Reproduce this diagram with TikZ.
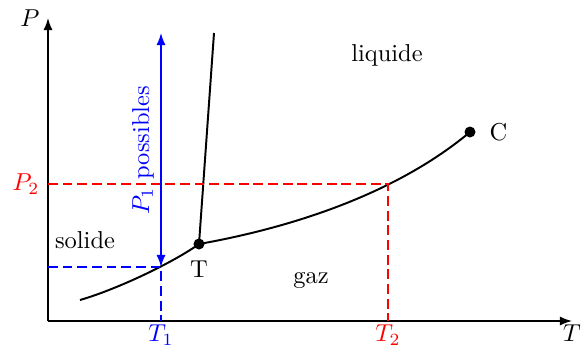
\documentclass[tikz,border=0pt]{standalone}
\usepackage{amsmath}
\usepackage{xcolor}
\usetikzlibrary{arrows.meta,positioning,calc}

\begin{document}
\begin{tikzpicture}[
  x=0.01437cm, y=0.01437cm,
  axis/.style={semithick, -{Latex[length=5pt]}},
  curve/.style={thick},
  reddash/.style={draw=red, semithick, dash pattern=on 4pt off 2pt},
  bluedash/.style={draw=blue, semithick, dash pattern=on 4pt off 2pt},
  rangearrow/.style={draw=blue, fill=blue, semithick, {Latex[length=5pt]}-{Latex[length=5pt]}},
  dot/.style={circle, fill, inner sep=0pt, minimum size=4.5pt},
  ticklab/.style={below, inner sep=1.5pt}
]
\useasboundingbox (0,0) rectangle (582,349);

% axes
\coordinate (O) at (48,28);
\coordinate (Ptip) at (48,331);
\coordinate (Ttip) at (572,28);
\draw[axis] (O) -- (Ptip);
\draw[axis] (O) -- (Ttip);
\node[left] (Plab) at (Ptip) {$P$};
\node[ticklab] (Tlab) at (Ttip) {$T$};

% special points
\coordinate (A) at (161,82);
\coordinate (B) at (388,165);
\node[dot] (triple) at (199,105) {};
\node[dot] (crit) at (470,217) {};
\node[below=1pt of triple] (triplelab) {T};
\node[right=2pt of crit] (critlab) {C};

% coexistence curves
\draw[curve] (80,49) .. controls (118,60) and (174,87) .. (triple.center);
\coordinate (fusend) at (214,316);
\draw[curve] (triple.center) -- (fusend);
\draw[curve] (triple.center) .. controls (278,119) and (390,150) .. (crit.center);

% dashed guides
\coordinate (P2axis) at (48,165);
\coordinate (T2axis) at (388,28);
\coordinate (P1axis) at (48,82);
\coordinate (T1axis) at (161,28);
\draw[reddash] (P2axis) -- (B) -- (T2axis);
\draw[bluedash] (P1axis) -- (A) -- (T1axis);
\node[left, red] (P2lab) at (P2axis) {$P_2$};
\node[ticklab, red] (T2lab) at (T2axis) {$T_2$};
\node[ticklab, blue] (T1lab) at (T1axis) {$T_1$};

% range of P1
\coordinate (Atop) at (161,316);
\draw[rangearrow] (Atop) -- (A);
\node[blue, rotate=90] (possib) at (143,199) {$P_1$ possibles};

% phases
\node (solide) at (85,109) {solide};
\node (liquide) at (387,294) {liquide};
\node (gaz) at (311,69) {gaz};

\end{tikzpicture}
\end{document}
